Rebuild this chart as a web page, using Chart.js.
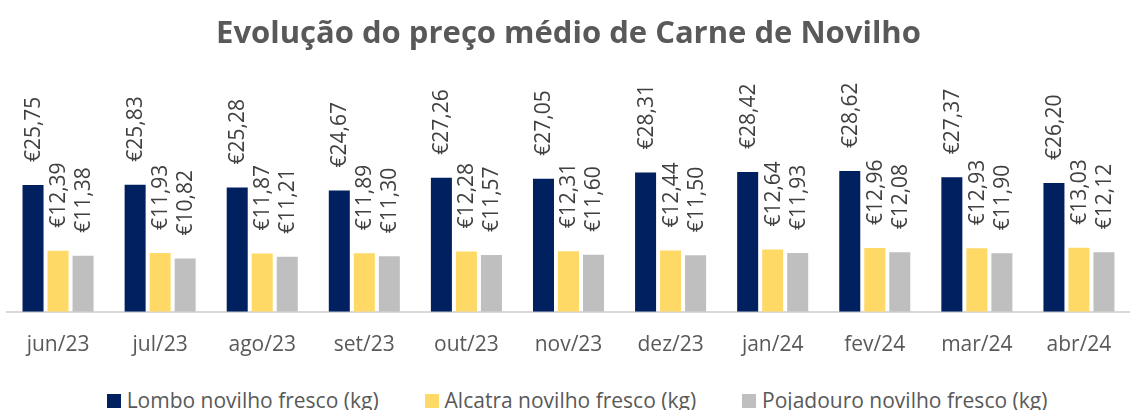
<!DOCTYPE html>
<html>
<head>
<meta charset="utf-8">
<script src="https://cdn.jsdelivr.net/npm/chart.js@4.4.1/dist/chart.umd.min.js"></script>
<style>
  body { margin: 0; width: 1130px; height: 410px; overflow: hidden; background: #fff; position: relative; }
  canvas { position: absolute; left: 0; top: 0; }
  #legend { position: absolute; left: 12px; top: 387px; width: 1130px; display: flex; justify-content: center; gap: 46px;
            font-family: "Open Sans", sans-serif; font-size: 21px; color: #595959; line-height: 26px; white-space: nowrap; }
  #legend span.box { display: inline-block; width: 14px; height: 14px; margin-right: 6px; vertical-align: baseline; }
</style>
</head>
<body>
<canvas id="myChart" width="1130" height="382"></canvas>
<div id="legend"></div>
<script>
const categories = ['jun/23', 'jul/23', 'ago/23', 'set/23', 'out/23', 'nov/23', 'dez/23', 'jan/24', 'fev/24', 'mar/24', 'abr/24'];
const seriesNames = ['Lombo novilho fresco (kg)', 'Alcatra novilho fresco (kg)', 'Pojadouro novilho fresco (kg)'];
const lombo = [25.75, 25.83, 25.28, 24.67, 27.26, 27.05, 28.31, 28.42, 28.62, 27.37, 26.20];
const alcatra = [12.39, 11.93, 11.87, 11.89, 12.28, 12.31, 12.44, 12.64, 12.96, 12.93, 13.03];
const pojadouro = [11.38, 10.82, 11.21, 11.30, 11.57, 11.60, 11.50, 11.93, 12.08, 11.90, 12.12];
const colors = ['#002060', '#FFD966', '#BFBFBF'];

const euro = v => '€' + v.toFixed(2).replace('.', ',');

// rotated value labels above each bar
const barLabels = {
    id: 'barLabels',
    afterDatasetsDraw(chart) {
        const ctx = chart.ctx;
        ctx.save();
        ctx.font = '21px "Open Sans"';
        ctx.fillStyle = '#404040';
        ctx.textAlign = 'left';
        ctx.textBaseline = 'middle';
        chart.data.datasets.forEach((ds, i) => {
            chart.getDatasetMeta(i).data.forEach((bar, j) => {
                ctx.save();
                ctx.translate(bar.x, bar.y - 23);
                ctx.rotate(-Math.PI / 2);
                ctx.fillText(euro(ds.data[j]), 0, 1);
                ctx.restore();
            });
        });
        ctx.restore();
    }
};

const series = [lombo, alcatra, pojadouro];
const ctx = document.getElementById('myChart');
new Chart(ctx, {
    type: 'bar',
    data: {
        labels: categories,
        datasets: series.map((d, i) => ({
            label: seriesNames[i],
            data: d,
            backgroundColor: colors[i],
            categoryPercentage: 0.735,
            barPercentage: 0.84,
        }))
    },
    options: {
        responsive: false,
        animation: false,
        layout: { padding: { left: 7, right: 0, top: 0, bottom: 11 } },
        scales: {
            x: {
                grid: { display: false },
                border: { color: '#D9D9D9', width: 2 },
                ticks: { color: '#595959', font: { family: 'Open Sans', size: 21 }, padding: 13 }
            },
            y: { display: false, min: 0, max: 48.5 }
        },
        plugins: {
            legend: { display: false },
            tooltip: { enabled: false },
            title: {
                display: true,
                text: 'Evolução do preço médio de Carne de Novilho',
                color: '#595959',
                font: { family: 'Open Sans', size: 31, weight: 'bold' },
                padding: { top: 16, bottom: 20 }
            }
        }
    },
    plugins: [barLabels]
});

const legend = document.getElementById('legend');
seriesNames.forEach((name, i) => {
    const item = document.createElement('div');
    item.innerHTML = '<span class="box" style="background:' + colors[i] + '"></span>' + name;
    legend.appendChild(item);
});
</script>
</body>
</html>
